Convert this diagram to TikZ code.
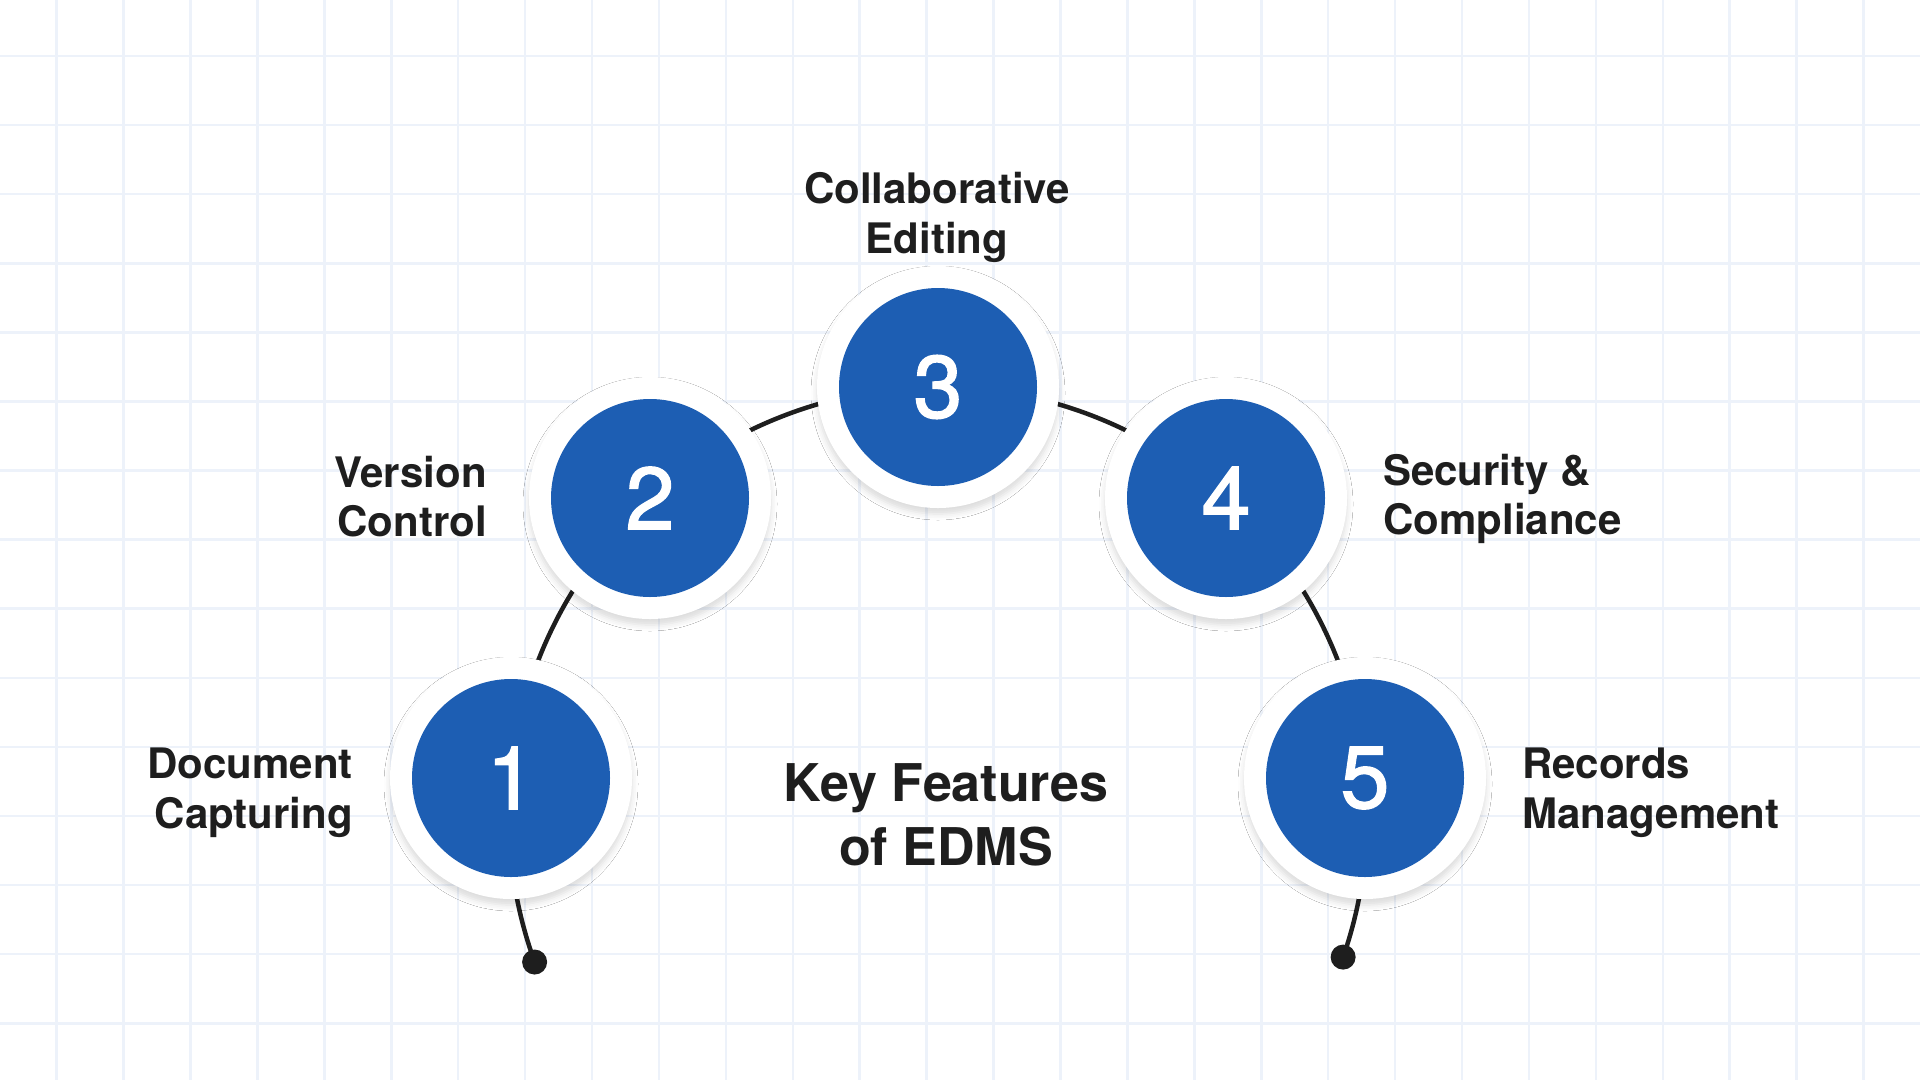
\documentclass[tikz,border=0pt]{standalone}
\usepackage{fontspec}
\setmainfont{TeX Gyre Heros}
\newfontfamily\digitfont{TeX Gyre Heros}[FakeBold=1.6]
\usetikzlibrary{calc,shadows.blur}
\definecolor{gridc}{HTML}{EDF2FA}
\definecolor{bluec}{HTML}{1D5EB3}
\definecolor{inkc}{HTML}{1E1E1E}
\begin{document}
\begin{tikzpicture}[x=1pt,y=-1pt,
  ring/.style={circle, fill=white, minimum size=242pt, inner sep=0pt,
    blur shadow={shadow xshift=0pt, shadow yshift=-6pt, shadow blur radius=6pt, shadow opacity=14}},
  disc/.style={circle, fill=bluec, minimum size=198pt, inner sep=0pt, text=white,
    font=\digitfont\fontsize{88}{88}\selectfont},
  lbl/.style={inner sep=0pt, text=inkc, font=\fontsize{42}{48}\selectfont\bfseries},
  ttl/.style={inner sep=0pt, text=inkc, font=\fontsize{52}{60}\selectfont\bfseries},
  endpt/.style={circle, fill=inkc, minimum size=25pt, inner sep=0pt},
  arcline/.style={draw=inkc, line width=4.5pt},
  gridline/.style={draw=gridc, line width=2.5pt}]

\fill[white] (0,0) rectangle (1920,1080);
\useasboundingbox (0,0) rectangle (1920,1080);

% grid
\foreach \i in {0,...,27} \draw[gridline] ({56.7+66.92*\i},0) -- ({56.7+66.92*\i},1080);
\foreach \j in {0,...,14} \draw[gridline] (0,{56+69.09*\j}) -- (1920,{56+69.09*\j});

% arc
\coordinate (o) at (938,816);
\coordinate (e1) at ($(o)+(160.1:429)$);
\coordinate (e5) at ($(o)+(19.2:429)$);
\draw[arcline] (e1) arc[start angle=160.1, end angle=379.2, radius=429];
\node[endpt] (d1) at (e1) {};
\node[endpt] (d5) at (e5) {};

% circles
\node[ring] (r1) at (511,778) {};
\node[disc] (c1) at (r1) {1};
\node[ring] (r2) at (650,498) {};
\node[disc] (c2) at (r2) {2};
\node[ring] (r3) at (938,387) {};
\node[disc] (c3) at (r3) {3};
\node[ring] (r4) at (1226,498) {};
\node[disc] (c4) at (r4) {4};
\node[ring] (r5) at (1365,778) {};
\node[disc] (c5) at (r5) {5};

% labels
\node[lbl, anchor=base] (l3a) at (937,203) {Collaborative};
\node[lbl, anchor=base] (l3b) at (937,253) {Editing};
\node[lbl, anchor=base east] (l2a) at (487,487) {Version};
\node[lbl, anchor=base east] (l2b) at (487,536) {Control};
\node[lbl, anchor=base east] (l1a) at (353,778) {Document};
\node[lbl, anchor=base east] (l1b) at (353,828) {Capturing};
\node[lbl, anchor=base west] (l4a) at (1383,485) {Security \&};
\node[lbl, anchor=base west] (l4b) at (1383,534) {Compliance};
\node[lbl, anchor=base west] (l5a) at (1522,778) {Records};
\node[lbl, anchor=base west] (l5b) at (1522,828) {Management};

% title
\node[ttl, anchor=base] (t1) at (946,801) {Key Features};
\node[ttl, anchor=base] (t2) at (946,865) {of EDMS};
\end{tikzpicture}
\end{document}
